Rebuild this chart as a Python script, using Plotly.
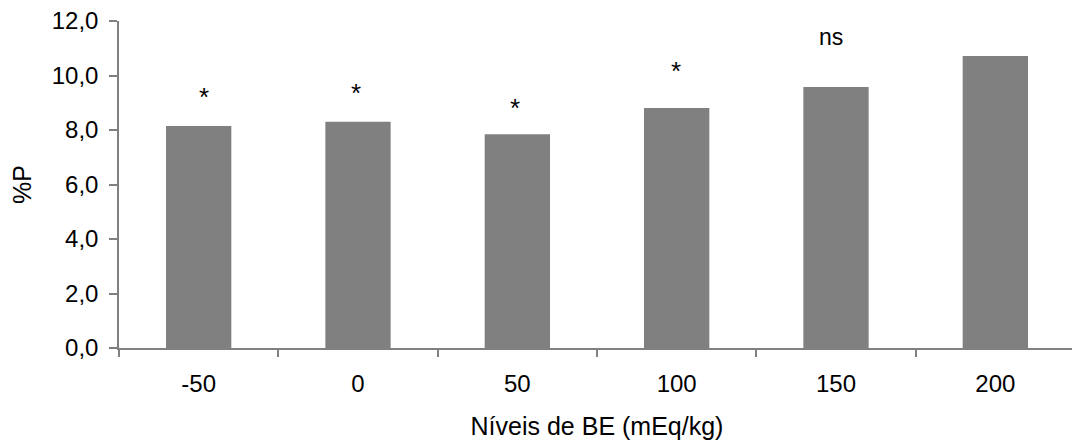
import plotly.graph_objects as go

categories = ["-50", "0", "50", "100", "150", "200"]
values = [8.15, 8.30, 7.84, 8.81, 9.58, 10.72]

sig_labels = ["*", "*", "*", "*", "ns", ""]
sig_label_y = [9.20, 9.37, 8.80, 10.15, 11.42, None]
sig_xshift = [5, -2, -2, -1, -5, 0]

FONT = "Liberation Sans, Arial, sans-serif"

fig = go.Figure()
fig.add_trace(go.Bar(
    x=categories, y=values,
    marker=dict(color="#808080", line=dict(width=0)),
    width=0.41,
    hoverinfo="x+y",
))

for i, (lab, yy, xs) in enumerate(zip(sig_labels, sig_label_y, sig_xshift)):
    if lab:
        fig.add_annotation(
            x=i, y=yy, xref="x", yref="y", text=lab, showarrow=False,
            xshift=xs, yanchor="middle",
            font=dict(family=FONT, size=26 if lab == "*" else 23, color="black"),
        )

fig.update_layout(
    width=1080, height=445,
    margin=dict(l=111, r=13, t=13, b=105, autoexpand=False),
    paper_bgcolor="white", plot_bgcolor="white",
    separators=", ",
    showlegend=False,
    font=dict(family=FONT, size=24, color="black"),
)

fig.update_xaxes(
    type="category", range=[-0.5, 5.5], autorange=False, automargin=False,
    showline=True, linecolor="#808080", linewidth=1.5,
    ticks="outside", tickson="boundaries", ticklen=7, tickcolor="#808080", tickwidth=1.5,
    showgrid=False, zeroline=False, tickangle=0,
    tickfont=dict(family=FONT, size=24, color="black"),
    ticklabelstandoff=13, ticklabeloverflow="allow",
    title=dict(text="Níveis de BE (mEq/kg)", font=dict(family=FONT, size=25, color="black"), standoff=22),
)

fig.update_yaxes(
    range=[0, 12], autorange=False, automargin=False, dtick=2, tick0=0, tickformat=".1f",
    showline=True, linecolor="#808080", linewidth=1.5,
    ticks="outside", ticklen=8, tickcolor="#808080", tickwidth=1.5,
    showgrid=False, zeroline=False,
    tickfont=dict(family=FONT, size=24, color="black"),
    ticklabelstandoff=6, ticklabeloverflow="allow",
    title=dict(text="%P", font=dict(family=FONT, size=25, color="black"), standoff=16),
)

fig.write_html("out.html")
